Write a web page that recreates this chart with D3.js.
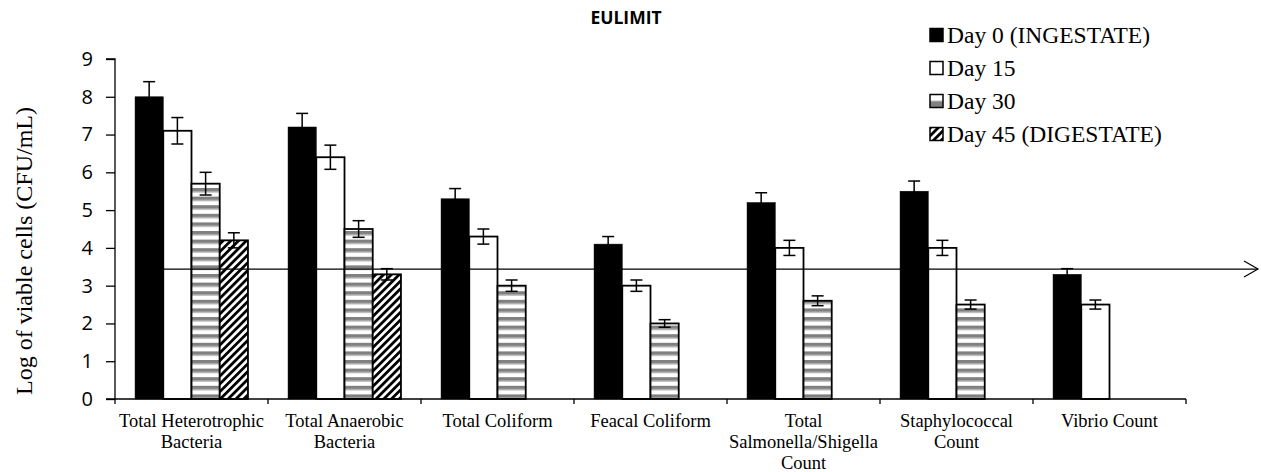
<!DOCTYPE html>
<html>
<head>
<meta charset="utf-8">
<script src="https://cdnjs.cloudflare.com/ajax/libs/d3/7.8.5/d3.min.js"></script>
<style>
  body { margin: 0; background: #fff; }
  svg { display: block; }
</style>
</head>
<body>
<div id="chart"></div>
<script>
// chart data
var categories = ["Total Heterotrophic Bacteria", "Total Anaerobic Bacteria", "Total Coliform",
    "Feacal Coliform", "Total Salmonella/Shigella Count", "Staphylococcal Count", "Vibrio Count"];
var categoryLines = [["Total Heterotrophic", "Bacteria"], ["Total Anaerobic", "Bacteria"], ["Total Coliform"],
    ["Feacal Coliform"], ["Total", "Salmonella/Shigella", "Count"], ["Staphylococcal", "Count"], ["Vibrio Count"]];
var seriesNames = ["Day 0 (INGESTATE)", "Day 15", "Day 30", "Day 45 (DIGESTATE)"];
var day0 = [8.0, 7.2, 5.3, 4.1, 5.2, 5.5, 3.3];
var day15 = [7.1, 6.4, 4.3, 3.0, 4.0, 4.0, 2.5];
var day30 = [5.7, 4.5, 3.0, 2.0, 2.6, 2.5, 0];
var day45 = [4.2, 3.3, 0, 0, 0, 0, 0];
var err0 = [0.4, 0.36, 0.27, 0.2, 0.26, 0.27, 0.15];
var err15 = [0.35, 0.32, 0.2, 0.15, 0.2, 0.2, 0.12];
var err30 = [0.3, 0.22, 0.15, 0.1, 0.13, 0.12, 0];
var err45 = [0.2, 0.15, 0, 0, 0, 0, 0];
var yTicks = [0, 1, 2, 3, 4, 5, 6, 7, 8, 9];
var euLimit = 3.44;
var title = "EULIMIT";
var yLabel = "Log of viable cells (CFU/mL)";

var svgWidth = 1261;
var svgHeight = 472;
var margin = { top: 59, right: 75, bottom: 73, left: 115 };
var width = svgWidth - margin.left - margin.right;
var height = svgHeight - margin.top - margin.bottom;

var svg = d3.select("#chart").append("svg").attr("width", svgWidth).attr("height", svgHeight);

// patterns
var defs = svg.append("defs");
var stripes = defs.append("pattern").attr("id", "stripes")
    .attr("patternUnits", "userSpaceOnUse").attr("width", 8).attr("height", 8.6);
stripes.append("rect").attr("width", 8).attr("height", 8.6).attr("fill", "#fff");
stripes.append("rect").attr("width", 8).attr("height", 3.6).attr("fill", "#808080");
stripes.append("rect").attr("y", 3.6).attr("width", 8).attr("height", 1.2).attr("fill", "#c4c4c4");

var hatch = defs.append("pattern").attr("id", "hatch")
    .attr("patternUnits", "userSpaceOnUse").attr("width", 5.5).attr("height", 5.5)
    .attr("patternTransform", "rotate(45)");
hatch.append("rect").attr("width", 5.5).attr("height", 5.5).attr("fill", "#fff");
hatch.append("rect").attr("width", 2.8).attr("height", 5.5).attr("fill", "#000");

// legend version of the stripes: white on top, grey below
var legendStripes = defs.append("pattern").attr("id", "legendStripes")
    .attr("patternUnits", "objectBoundingBox").attr("width", 1).attr("height", 1);
legendStripes.append("rect").attr("width", 13).attr("height", 13).attr("fill", "#fff");
legendStripes.append("rect").attr("y", 6.5).attr("width", 13).attr("height", 6.5).attr("fill", "#808080");

var fills = ["#000", "#fff", "url(#stripes)", "url(#hatch)"];
var legendFills = ["#000", "#fff", "url(#legendStripes)", "url(#hatch)"];

var chartGroup = svg.append("g").attr("transform", `translate(${margin.left}, ${margin.top})`);

var x0 = d3.scaleBand().domain(categories).range([0, width]).paddingInner(0).paddingOuter(0);
var x1 = d3.scaleBand().domain(seriesNames)
    .range([x0.bandwidth() * 0.131, x0.bandwidth() * 0.869]).padding(0);
var y = d3.scaleLinear().domain([0, 9]).range([height, 0]);

var seriesValues = [day0, day15, day30, day45];
var seriesErrors = [err0, err15, err30, err45];

var data = [];
categories.forEach(function(c, i) {
    seriesNames.forEach(function(s, j) {
        data.push({ cat: c, series: s, idx: j, value: seriesValues[j][i], err: seriesErrors[j][i] });
    });
});

// bars
chartGroup.selectAll("rect.bar")
    .data(data)
    .enter()
    .append("rect")
    .attr("class", "bar")
    .attr("x", d => x0(d.cat) + x1(d.series))
    .attr("y", d => y(d.value))
    .attr("width", x1.bandwidth())
    .attr("height", d => height - y(d.value))
    .attr("fill", d => fills[d.idx])
    .attr("stroke", "#000")
    .attr("stroke-width", d => d.idx == 0 ? 0.5 : 1.8);

// error bars
var errData = data.filter(d => d.err > 0);
var errGroup = chartGroup.selectAll("g.err").data(errData).enter().append("g")
    .attr("stroke", "#000").attr("stroke-width", 1.5);
errGroup.append("line")
    .attr("x1", d => x0(d.cat) + x1(d.series) + x1.bandwidth() / 2)
    .attr("x2", d => x0(d.cat) + x1(d.series) + x1.bandwidth() / 2)
    .attr("y1", d => y(d.value + d.err))
    .attr("y2", d => y(d.value - d.err));
[1, -1].forEach(function(sign) {
    errGroup.append("line")
        .attr("x1", d => x0(d.cat) + x1(d.series) + x1.bandwidth() / 2 - 6)
        .attr("x2", d => x0(d.cat) + x1(d.series) + x1.bandwidth() / 2 + 6)
        .attr("y1", d => y(d.value + sign * d.err))
        .attr("y2", d => y(d.value + sign * d.err));
});

// axes
var xAxis = chartGroup.append("g").attr("transform", `translate(0, ${height})`);
xAxis.append("line").attr("x1", 0).attr("x2", width).attr("stroke", "#000").attr("stroke-width", 1.3);
xAxis.selectAll("line.tick")
    .data(categories.concat(["end"]))
    .enter()
    .append("line")
    .attr("x1", (d, i) => i * x0.step())
    .attr("x2", (d, i) => i * x0.step())
    .attr("y1", 0).attr("y2", 5)
    .attr("stroke", "#000").attr("stroke-width", 1.3);

var yAxis = d3.axisLeft(y).tickValues(yTicks).tickSize(9).tickPadding(13).tickFormat(d3.format("d"));
var yg = chartGroup.append("g").call(yAxis);
yg.select(".domain").attr("stroke-width", 1.3).attr("d", `M-9,0H0V${height}H-9`);
yg.selectAll(".tick line").attr("stroke-width", 1.3);
yg.selectAll(".tick text")
    .attr("font-family", "Open Sans, sans-serif")
    .attr("font-size", "20px")
    .attr("fill", "#000");

// category labels
var labels = chartGroup.selectAll("text.cat")
    .data(categories)
    .enter()
    .append("text")
    .attr("class", "cat")
    .attr("text-anchor", "middle")
    .attr("font-family", "Liberation Serif, Times New Roman, serif")
    .attr("font-size", "18.5px")
    .attr("x", d => x0(d) + x0.bandwidth() / 2)
    .attr("y", height + 28);
labels.each(function(d, i) {
    var t = d3.select(this);
    categoryLines[i].forEach(function(line, k) {
        t.append("tspan")
            .attr("x", x0(d) + x0.bandwidth() / 2)
            .attr("dy", k == 0 ? 0 : 21)
            .text(line);
    });
});

// EU limit line with arrow
var limitX1 = x0(categories[0]) + x1(seriesNames[0]) + 5;
var limitX2 = svgWidth - margin.left - 3;
chartGroup.append("line")
    .attr("x1", limitX1).attr("x2", limitX2)
    .attr("y1", y(euLimit)).attr("y2", y(euLimit))
    .attr("stroke", "#000").attr("stroke-width", 1.2);
chartGroup.append("path")
    .attr("d", `M${limitX2 - 14},${y(euLimit) - 8}L${limitX2},${y(euLimit)}L${limitX2 - 14},${y(euLimit) + 8}`)
    .attr("fill", "none").attr("stroke", "#000").attr("stroke-width", 1.2);

// title
svg.append("text")
    .attr("x", 626).attr("y", 24)
    .attr("text-anchor", "middle")
    .attr("font-family", "Open Sans, sans-serif")
    .attr("font-weight", "bold")
    .attr("font-size", "17.5px")
    .text(title);

// y label
svg.append("text")
    .attr("transform", "translate(32, 251) rotate(-90)")
    .attr("text-anchor", "middle")
    .attr("font-family", "Liberation Serif, Times New Roman, serif")
    .attr("font-size", "24px")
    .text(yLabel);

// legend
var legend = svg.selectAll("g.legend")
    .data(seriesNames)
    .enter()
    .append("g")
    .attr("class", "legend")
    .attr("transform", (d, i) => `translate(930, ${35 + i * 33})`);
legend.append("rect")
    .attr("x", 0).attr("y", -6.5)
    .attr("width", 13).attr("height", 13)
    .attr("fill", (d, i) => legendFills[i])
    .attr("stroke", "#000").attr("stroke-width", 1.5);
legend.append("text")
    .attr("x", 17).attr("y", 8)
    .attr("font-family", "Liberation Serif, Times New Roman, serif")
    .attr("font-size", "23.5px")
    .text(d => d);
</script>
</body>
</html>
